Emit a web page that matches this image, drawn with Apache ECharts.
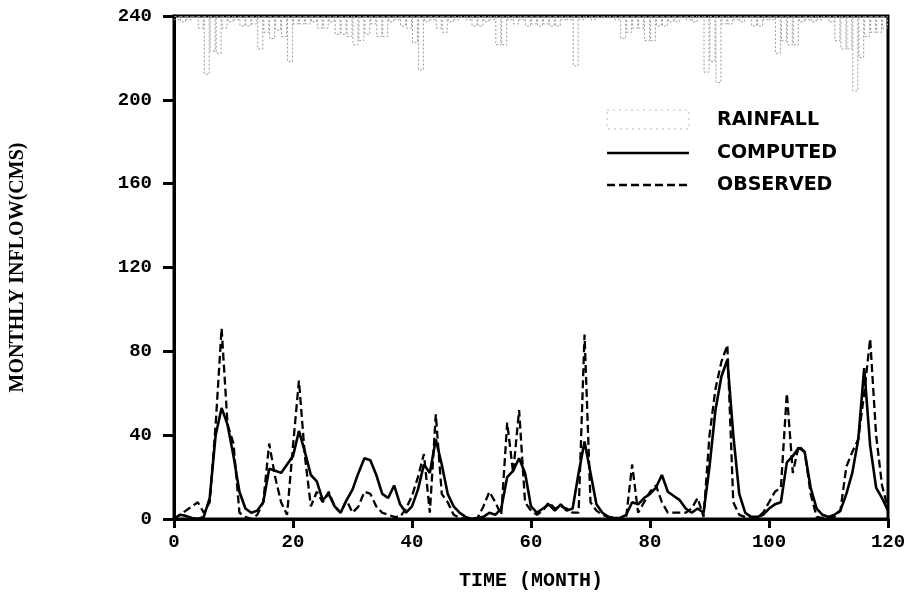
<!DOCTYPE html>
<html><head><meta charset="utf-8">
<script src="https://cdn.jsdelivr.net/npm/echarts@6/dist/echarts.min.js"></script>
<style>html,body{margin:0;padding:0;background:#fff}#c{width:912px;height:601px}</style>
</head><body><div id="c"></div>
<script>
// Monthly inflow (CMS), months 0..120
const computed = [0,2,1.5,0.5,0,1,10,40,53,45,30,13,5,3,4,8,24,23,22,26,30,42,32,21,18,9,12,6,3,9,14,22,29,28,21,12,10,16,7,3,6,14,26,22,38,26,12,6,3,1,0,0.5,1,3,2,5,20,23,29,22,6,3,5,7,4,7,4,5,22,37,22,7,3,1,0.5,0.5,2,8,7,10,12,15,21,13,11,9,5,3,5,3,25,52,68,76,40,12,3,1,1,2,5,7,8,27,30,34,32,15,5,2,1,2,4,12,22,38,72,35,15,10,4];
const observed = [0,2,4,6,8,3,8,45,91,45,36,3,1,0,2,8,36,20,8,2,35,66,30,6,13,8,13,6,3,9,3,6,13,12,6,3,2,1,1,5,11,20,31,3,50,12,8,2,0.5,0,0,0.5,6,13,8,2,46,22,52,8,4,2,4,8,5,6,5,3,3,88,8,4,2,1,0,0.5,1,26,3,8,13,16,8,3,3,3,3,5,10,1,40,62,75,83,8,2,1,0.5,0.5,3,8,13,15,60,22,35,32,12,1,0.5,0.5,1,4,25,32,38,60,86,40,16,5];
// Monthly rainfall (hanging bars from top, same vertical units), months 1..120
const rainfall = [2,3,2,1,6,28,17,18,6,3,2,5,5,4,16,8,11,7,10,22,4,4,4,3,6,6,3,9,9,10,14,12,9,4,10,10,3,2,5,6,13,26,3,2,6,8,3,2,1,2,5,5,3,2,14,14,2,4,2,5,4,5,4,5,5,2,2,24,2,1,2,1,1,1,2,11,8,6,6,12,12,5,5,3,3,1,2,3,1,27,22,32,4,4,2,3,1,5,5,2,2,18,12,14,14,3,2,3,2,1,3,12,16,16,36,20,10,8,8,6];
const xTicks = [0,20,40,60,80,100,120];
const yTicks = [0,40,80,120,160,200,240];

const months = computed.map((_, i) => i);
const rainCats = rainfall.map((_, i) => String(i + 1));

const chart = echarts.init(document.getElementById('c'), null, {renderer: 'canvas'});
const monoFont = 'Liberation Mono';
chart.setOption({
  animation: false,
  backgroundColor: '#fff',
  grid: {left: 172, right: 24, top: 16, bottom: 82, show: true, borderColor: '#000', borderWidth: 3, backgroundColor: 'transparent'},
  xAxis: [{
    type: 'value', min: xTicks[0], max: xTicks[xTicks.length - 1], interval: 20,
    axisLine: {lineStyle: {color: '#000', width: 3}},
    axisTick: {inside: false, length: 9, lineStyle: {color: '#000', width: 3}},
    axisLabel: {color: '#000', fontFamily: monoFont, fontWeight: 'bold', fontSize: 19, margin: 14},
    splitLine: {show: false},
    name: 'TIME (MONTH)', nameLocation: 'middle', nameGap: 52,
    nameTextStyle: {color: '#000', fontFamily: monoFont, fontWeight: 'bold', fontSize: 20}
  }, {
    type: 'category', data: rainCats, show: false, boundaryGap: true
  }],
  yAxis: [{
    type: 'value', min: yTicks[0], max: yTicks[yTicks.length - 1], interval: 40,
    axisLine: {lineStyle: {color: '#000', width: 3}},
    axisTick: {inside: false, length: 11, lineStyle: {color: '#000', width: 3}},
    axisLabel: {color: '#000', fontFamily: monoFont, fontWeight: 'bold', fontSize: 19, margin: 22},
    splitLine: {show: false},
    name: 'MONTHLY INFLOW(CMS)', nameLocation: 'middle', nameGap: 146,
    nameTextStyle: {color: '#000', fontFamily: 'Liberation Serif', fontWeight: 'bold', fontSize: 20}
  }, {
    type: 'value', min: 0, max: 240, inverse: true, show: false, splitLine: {show: false}
  }],
  series: [{
    name: 'RAINFALL', type: 'bar', xAxisIndex: 1, yAxisIndex: 1,
    data: rainfall, barCategoryGap: '0%', barGap: '0%',
    itemStyle: {color: 'rgba(255,255,255,0)', borderColor: '#999', borderWidth: 1, borderType: [2, 2]},
    silent: true, z: 1
  }, {
    name: 'COMPUTED', type: 'line', data: months.map((m, i) => [m, computed[i]]),
    symbol: 'none', lineStyle: {color: '#000', width: 2.6}, z: 3
  }, {
    name: 'OBSERVED', type: 'line', data: months.map((m, i) => [m, observed[i]]),
    symbol: 'none', lineStyle: {color: '#000', width: 2.3, type: [8, 4]}, z: 2
  }],
  graphic: [
    {type: 'rect', shape: {x: 607, y: 110, width: 82, height: 19}, style: {fill: 'none', stroke: '#bbb', lineWidth: 1, lineDash: [2, 4]}},
    {type: 'text', x: 717, y: 120, style: {text: 'RAINFALL', fill: '#000', font: 'bold 19px "DejaVu Sans"', textVerticalAlign: 'middle'}},
    {type: 'line', shape: {x1: 607, y1: 153, x2: 689, y2: 153}, style: {stroke: '#000', lineWidth: 2.6}},
    {type: 'text', x: 717, y: 153, style: {text: 'COMPUTED', fill: '#000', font: 'bold 19px "DejaVu Sans"', textVerticalAlign: 'middle'}},
    {type: 'line', shape: {x1: 607, y1: 185, x2: 689, y2: 185}, style: {stroke: '#000', lineWidth: 2.3, lineDash: [8, 4]}},
    {type: 'text', x: 717, y: 185, style: {text: 'OBSERVED', fill: '#000', font: 'bold 19px "DejaVu Sans"', textVerticalAlign: 'middle'}}
  ]
});
</script></body></html>
